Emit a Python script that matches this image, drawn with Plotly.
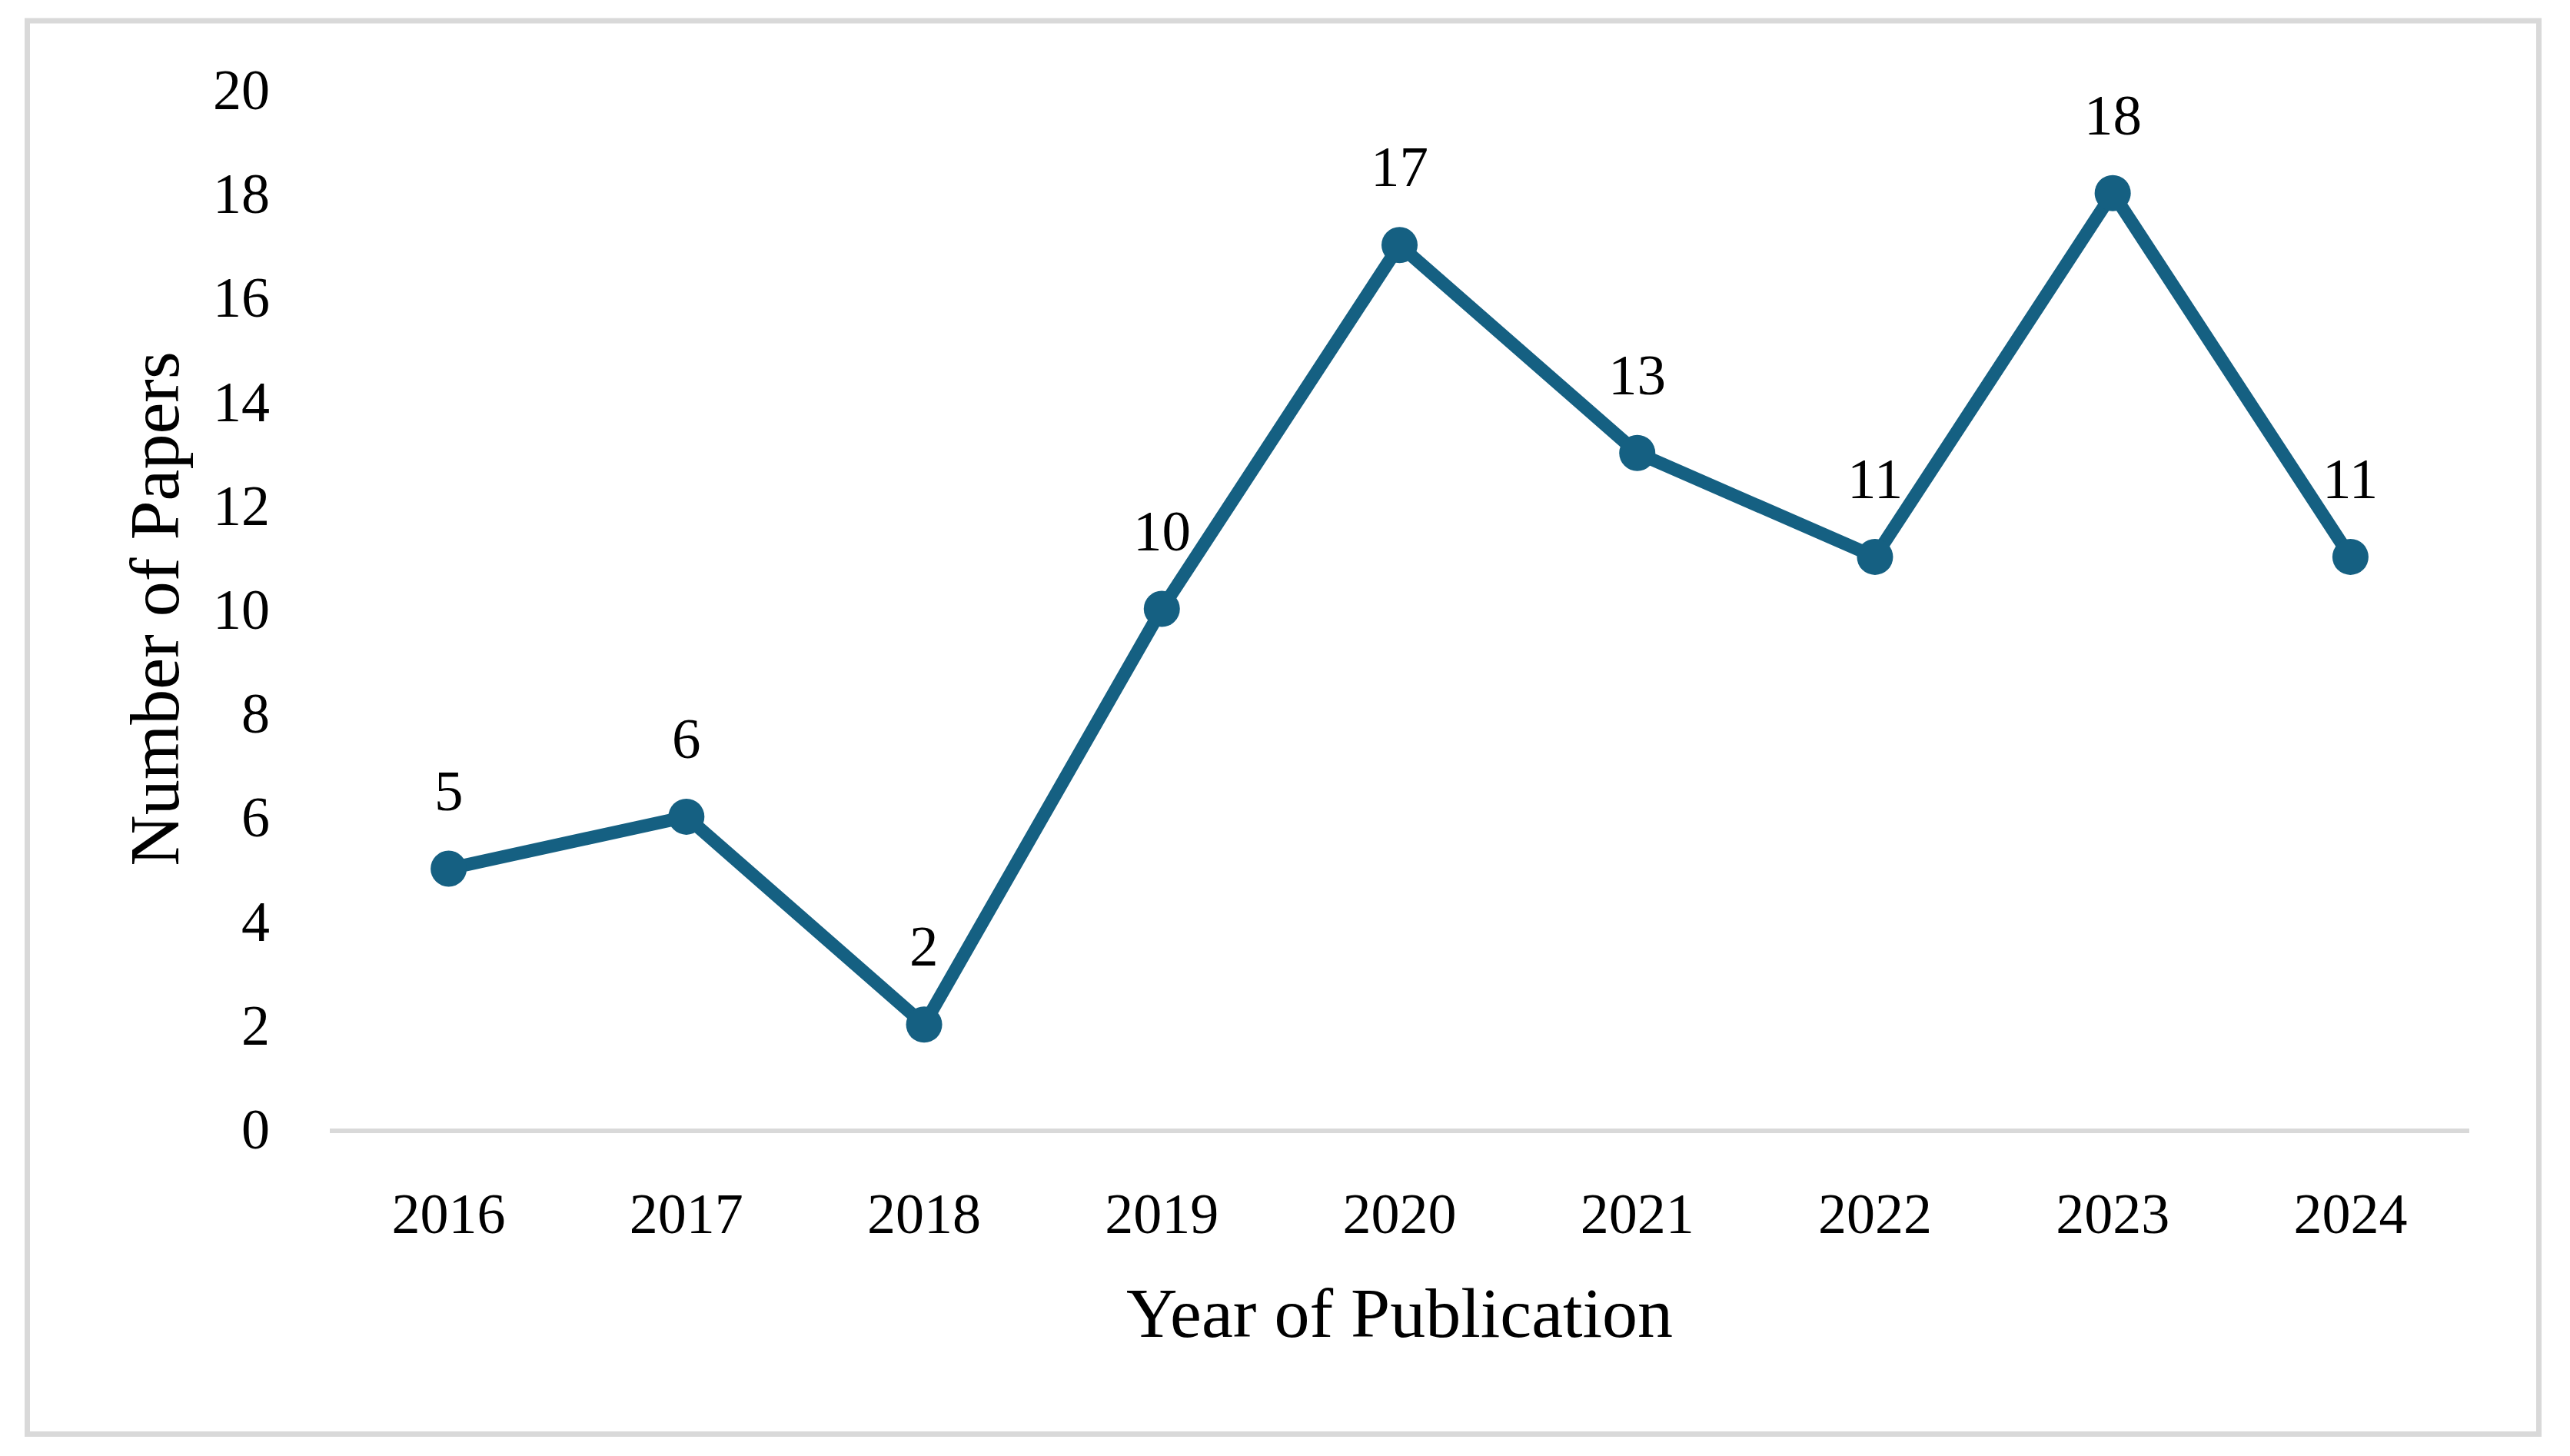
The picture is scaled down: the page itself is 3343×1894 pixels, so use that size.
import plotly.graph_objects as go

years = ["2016", "2017", "2018", "2019", "2020", "2021", "2022", "2023", "2024"]
papers = [5, 6, 2, 10, 17, 13, 11, 18, 11]
y_ticks = [0, 2, 4, 6, 8, 10, 12, 14, 16, 18, 20]

# page has an 8px body margin; work in figure coordinates
OFF = 8
W, H = 3343 - 2 * OFF, 1894 - 2 * OFF
L, R = 429 - OFF, 3212 - OFF
T, B = 116 - OFF, 1468 - OFF
FONT = "Liberation Serif, Times New Roman, serif"
LINE = "#156082"
GRAY = "#D9D9D9"

fig = go.Figure()
fig.add_trace(go.Scatter(
    x=years, y=papers, mode="lines+markers",
    line=dict(color=LINE, width=17),
    marker=dict(color=LINE, size=47),
    showlegend=False, hoverinfo="skip",
))

for i, (xv, yv) in enumerate(zip(years, papers)):
    fig.add_annotation(x=i, y=yv, text=str(yv), showarrow=False,
                       xref="x", yref="y", yshift=102,
                       font=dict(family=FONT, size=75, color="#000000"))

pw = R - L
ph = B - T
def px(xp):
    return (xp - OFF - L) / pw
def py(yp):
    return (B - (yp - OFF)) / ph

fig.add_shape(type="rect", xref="paper", yref="paper",
              x0=px(35.5), x1=px(3302.5), y0=py(1865.5), y1=py(27),
              line=dict(color=GRAY, width=7), fillcolor="rgba(0,0,0,0)", layer="below")

fig.update_layout(
    width=W, height=H,
    margin=dict(l=L, r=W - R, t=T, b=H - B, pad=0),
    paper_bgcolor="white", plot_bgcolor="white",
    font=dict(family=FONT, size=72, color="#000000"),
    xaxis=dict(
        type="category", range=[-0.5, 8.5],
        showline=True, linecolor=GRAY, linewidth=6,
        showgrid=False, zeroline=False, ticks="",
        tickfont=dict(family=FONT, size=74),
        ticklabelstandoff=41,
        title=dict(text="Year of Publication", font=dict(family=FONT, size=92), standoff=58),
    ),
    yaxis=dict(
        range=[0, 20], tickvals=y_ticks,
        showline=False, showgrid=False, zeroline=False, ticks="",
        tickfont=dict(family=FONT, size=74),
        ticklabelstandoff=77,
        title=dict(text="Number of Papers", font=dict(family=FONT, size=92), standoff=13),
    ),
)

fig.write_html("out.html")
